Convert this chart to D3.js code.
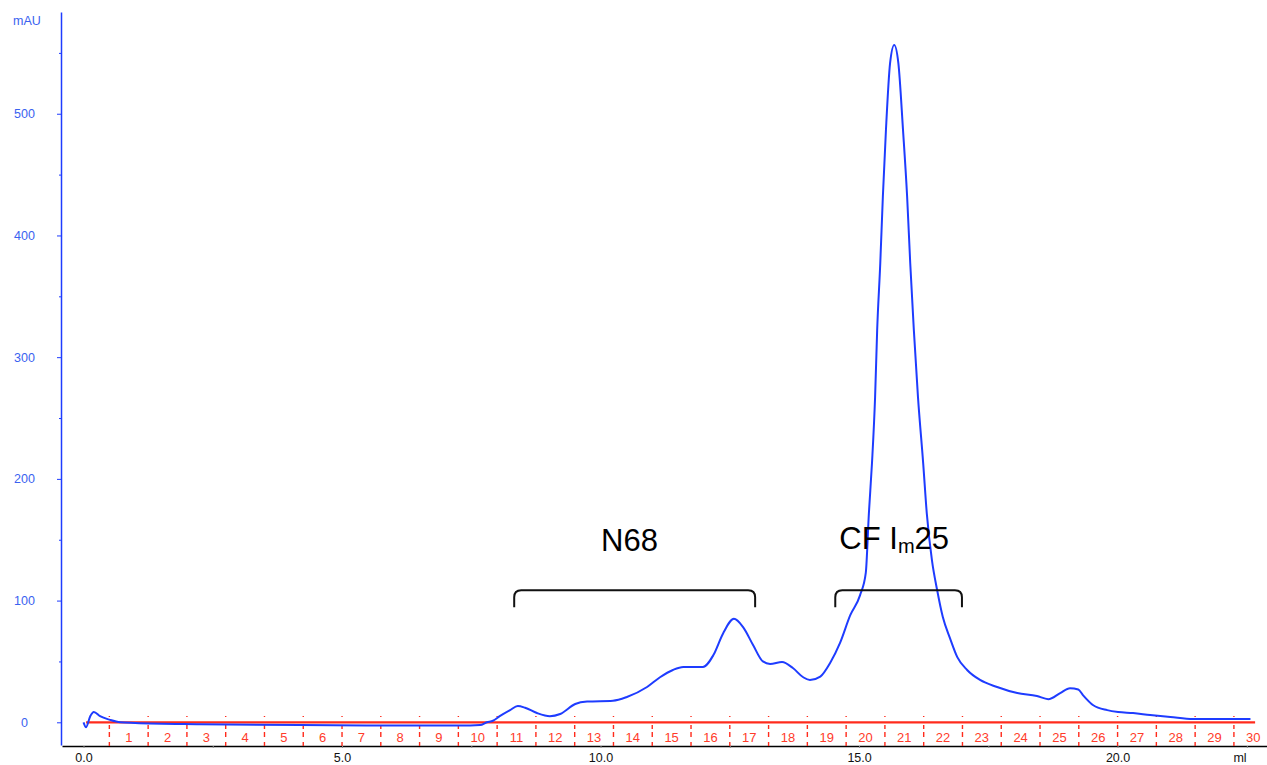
<!DOCTYPE html>
<html>
<head>
<meta charset="utf-8">
<script src="https://cdn.jsdelivr.net/npm/d3@7"></script>
<style>
  body { margin: 0; background: #fff; }
  svg { display: block; font-family: "Liberation Sans", Arial, sans-serif; }
</style>
</head>
<body>
<div id="chart"></div>
<script>
// UV trace (elution volume in ml, absorbance in mAU)
const volumeMl = [
  0.00, 0.05, 0.13, 0.20, 0.32, 0.51, 0.71, 1.00, 2.25, 4.19,
  6.12, 7.48, 7.67, 7.80, 7.92, 8.05, 8.25, 8.40, 8.54, 8.77,
  9.02, 9.22, 9.51, 9.74, 10.24, 10.51, 10.90, 11.15, 11.40, 11.60,
  11.98, 12.18, 12.37, 12.58, 12.76, 12.95, 13.14, 13.28, 13.51, 13.72,
  13.92, 14.05, 14.25, 14.44, 14.63, 14.83, 15.02, 15.13, 15.19, 15.25,
  15.31, 15.35, 15.41, 15.46, 15.52, 15.60, 15.68, 15.76, 15.85, 15.93,
  15.99, 16.06, 16.14, 16.24, 16.31, 16.41, 16.51, 16.62, 16.76, 16.90,
  17.09, 17.34, 17.67, 18.06, 18.44, 18.66, 18.89, 19.08, 19.24, 19.33,
  19.53, 19.80, 20.01, 20.30, 20.63, 21.02, 21.46, 22.57
];
const absorbanceMAU = [
  0, -4, 5, 8.5, 5, 2, 0, -0.5, -1.5, -2.3,
  -2.6, -2.6, -2.3, 0, 1.3, 5, 10, 13.4, 12, 7.6,
  5, 6.8, 15, 17, 17.7, 20.8, 29, 37, 43, 45.4,
  45.4, 55, 73, 85, 78, 63.5, 50, 48, 49.5, 44.6,
  37, 34.7, 37.5, 48.7, 65, 88, 104.5, 122.7, 171.7, 213,
  267, 322, 377, 431.6, 486.7, 541.6, 556.5, 541.6, 486.7, 431.6,
  377, 322, 267, 213, 171.7, 133, 108.7, 86.5, 69, 53.6,
  43, 34.8, 29, 24, 21.6, 19, 24, 28, 27, 22.4,
  14, 10, 8.5, 7.6, 6, 4.4, 2.7, 2.7
];

// Axis ticks
const yTickValues = [0, 100, 200, 300, 400, 500];
const yMinorTickValues = [50, 150, 250, 350, 450, 550];
const xTickValues = [0, 2.5, 5, 7.5, 10, 12.5, 15, 17.5, 20, 22.5];

// Fraction collector marks (ml) and their numbers
const fractionBoundaries = [
  0.5, 1.25, 2.0, 2.75, 3.5, 4.25, 5.0, 5.75, 6.5, 7.25,
  8.0, 8.75, 9.5, 10.25, 11.0, 11.75, 12.5, 13.25, 14.0, 14.75,
  15.5, 16.25, 17.0, 17.75, 18.5, 19.25, 20.0, 20.75, 21.5, 22.25, 23.0
];
const fractionLabels = [
  "1", "2", "3", "4", "5", "6", "7", "8", "9", "10",
  "11", "12", "13", "14", "15", "16", "17", "18", "19", "20",
  "21", "22", "23", "24", "25", "26", "27", "28", "29", "30"
];
const fractionLineStart = 0.05;
const fractionLineEnd = 22.66;

// Pooled fractions brackets
const poolNames = ["N68", "CF Im25"];
const poolStart = [8.33, 14.54];
const poolEnd = [12.99, 16.99];
const poolLabelCenter = [10.56, 15.68];
const bracketTop = 108.5;
const bracketFoot = 94.5;
const poolLabelBase = 140.5;

const width = 1267, height = 765;
const blue = "#1e3cff";
const red = "#ff2b1c";

const svg = d3.select("#chart").append("svg")
  .attr("width", width)
  .attr("height", height);

// Scales: plot spans the whole window, axes sit on its left/bottom edges
const x = d3.scaleLinear().domain([-0.416, 22.89]).range([62, 1267]);
const y = d3.scaleLinear().domain([-18.65, 583.6]).range([745, 12]);

// Y axis (blue), major ticks with labels and short minor ticks
const yAxisG = svg.append("g").attr("transform", "translate(61,0)");
yAxisG.call(d3.axisLeft(y).tickValues(yTickValues).tickSize(4).tickSizeOuter(0).tickFormat(d3.format("d")));
yAxisG.select(".domain").attr("stroke", blue).attr("stroke-width", 1.5);
yAxisG.selectAll(".tick line").attr("stroke", blue);
yAxisG.selectAll(".tick text")
  .attr("fill", "#3a62f0")
  .attr("font-size", 12.5)
  .attr("text-anchor", "middle")
  .attr("x", -36.5);

const yMinorG = svg.append("g").attr("transform", "translate(61,0)");
yMinorG.call(d3.axisLeft(y).tickValues(yMinorTickValues).tickSize(2).tickFormat(""));
yMinorG.select(".domain").remove();
yMinorG.selectAll(".tick line").attr("stroke", blue);

svg.append("text")
  .attr("x", 13)
  .attr("y", 25)
  .attr("fill", "#3a62f0")
  .attr("font-size", 12.5)
  .text("mAU");

// X axis (black), labels every 5 ml
const xAxisG = svg.append("g").attr("transform", "translate(0,746)");
xAxisG.call(d3.axisBottom(x).tickValues(xTickValues).tickSize(2).tickSizeOuter(0)
  .tickFormat((d) => (d % 5 === 0 ? d3.format(".1f")(d) : "")));
xAxisG.select(".domain").attr("stroke", "#000").attr("stroke-width", 1.5);
xAxisG.selectAll(".tick line").attr("stroke", "#888");
xAxisG.selectAll(".tick text").attr("fill", "#111").attr("font-size", 12.5).attr("y", 7);

svg.append("text")
  .attr("x", 1240)
  .attr("y", 762)
  .attr("text-anchor", "middle")
  .attr("fill", "#111")
  .attr("font-size", 12.5)
  .text("ml");

// Fractions: red baseline, dashed boundaries, numbers in between
const fracLayer = svg.append("g");
fracLayer.append("line")
  .attr("x1", x(fractionLineStart))
  .attr("x2", x(fractionLineEnd))
  .attr("y1", y(0))
  .attr("y2", y(0))
  .attr("stroke", red)
  .attr("stroke-width", 2.2);

fracLayer.selectAll("line.frac-mark")
  .data(fractionBoundaries)
  .join("line")
  .attr("class", "frac-mark")
  .attr("x1", (d) => x(d))
  .attr("x2", (d) => x(d))
  .attr("y1", 716)
  .attr("y2", 746)
  .attr("stroke", red)
  .attr("stroke-width", 1.4)
  .attr("stroke-dasharray", "1,8,4,3,5,5,4");

fracLayer.selectAll("text.frac-label")
  .data(fractionLabels)
  .join("text")
  .attr("class", "frac-label")
  .attr("x", (d, i) => x((fractionBoundaries[i] + fractionBoundaries[i + 1]) / 2))
  .attr("y", 742)
  .attr("text-anchor", "middle")
  .attr("fill", "#ff3b2a")
  .attr("font-size", 13)
  .text((d) => d);

// UV trace
const trace = volumeMl.map((v, i) => ({ v, a: absorbanceMAU[i] }));
const line = d3.line()
  .x((d) => x(d.v))
  .y((d) => y(d.a))
  .curve(d3.curveMonotoneX);

svg.append("path")
  .datum(trace)
  .attr("fill", "none")
  .attr("stroke", blue)
  .attr("stroke-width", 2)
  .attr("stroke-linejoin", "round")
  .attr("d", line);

// Brackets marking pooled fractions
const r = 7;
const brackets = svg.append("g");
poolNames.forEach((name, i) => {
  const x0 = x(poolStart[i]), x1 = x(poolEnd[i]);
  const yt = y(bracketTop), yf = y(bracketFoot);
  brackets.append("path")
    .attr("fill", "none")
    .attr("stroke", "#111")
    .attr("stroke-width", 2)
    .attr("d", `M${x0},${yf} V${yt + r} Q${x0},${yt} ${x0 + r},${yt} H${x1 - r} Q${x1},${yt} ${x1},${yt + r} V${yf}`);
});

// Pool labels; second one has a subscript "m"
const labelY = y(poolLabelBase);
svg.append("text")
  .attr("x", x(poolLabelCenter[0]))
  .attr("y", labelY)
  .attr("text-anchor", "middle")
  .attr("font-size", 31)
  .attr("fill", "#000")
  .text(poolNames[0]);

const cfLabel = svg.append("text")
  .attr("x", x(poolLabelCenter[1]))
  .attr("y", labelY - 2)
  .attr("text-anchor", "middle")
  .attr("font-size", 31)
  .attr("fill", "#000");
cfLabel.append("tspan").text("CF I");
cfLabel.append("tspan").attr("font-size", 20).attr("dy", 4).text("m");
cfLabel.append("tspan").attr("dy", -4).text("25");
</script>
</body>
</html>
